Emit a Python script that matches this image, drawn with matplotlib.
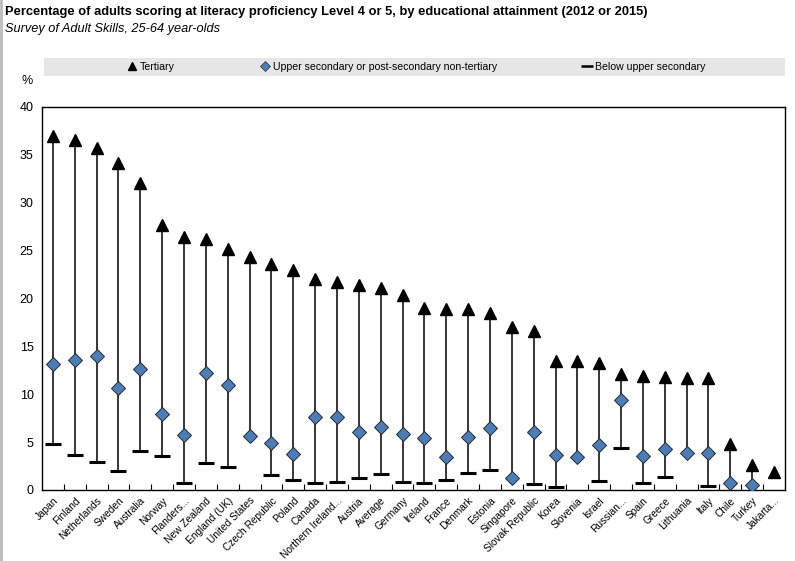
import numpy as np
import matplotlib
matplotlib.use("Agg")
import matplotlib.pyplot as plt
from matplotlib.lines import Line2D
from matplotlib.patches import Rectangle

plt.rcParams['font.family'] = ['Liberation Sans', 'DejaVu Sans']

# data
countries = ["Japan", "Finland", "Netherlands", "Sweden", "Australia", "Norway",
             "Flanders...", "New Zealand", "England (UK)", "United States",
             "Czech Republic", "Poland", "Canada", "Northern Ireland...", "Austria",
             "Average", "Germany", "Ireland", "France", "Denmark", "Estonia",
             "Singapore", "Slovak Republic", "Korea", "Slovenia", "Israel",
             "Russian...", "Spain", "Greece", "Lithuania", "Italy", "Chile",
             "Turkey", "Jakarta..."]
tertiary = [37.0, 36.6, 35.7, 34.2, 32.1, 27.7, 26.4, 26.2, 25.2, 24.3, 23.6,
            23.0, 22.0, 21.7, 21.4, 21.1, 20.35, 19.0, 18.9, 18.9, 18.5, 17.0,
            16.6, 13.5, 13.45, 13.25, 12.1, 11.9, 11.8, 11.7, 11.7, 4.8, 2.6, 1.9]
upper_sec = [13.2, 13.6, 13.95, 10.7, 12.6, 7.9, 5.7, 12.2, 11.0, 5.6, 4.9,
             3.8, 7.6, 7.6, 6.05, 6.6, 5.8, 5.4, 3.4, 5.5, 6.5, 1.3, 6.05,
             3.65, 3.45, 4.7, 9.4, 3.55, 4.25, 3.86, 3.86, 0.73, 0.52, np.nan]
below_sec = [4.8, 3.7, 2.95, 2.0, 4.07, 3.6, 0.77, 2.85, 2.4, np.nan, 1.6,
             1.08, 0.73, 0.83, 1.3, 1.67, 0.83, 0.73, 1.08, 1.8, 2.1, np.nan,
             0.63, 0.35, np.nan, 0.94, 4.4, 0.7, 1.4, np.nan, 0.45, np.nan,
             np.nan, np.nan]

x = np.arange(len(countries))
ter = np.array(tertiary)
upp = np.array(upper_sec)
bel = np.array(below_sec)
low = np.nanmin(np.vstack([ter, upp, bel]), axis=0)

fig = plt.figure(figsize=(7.95, 5.61), dpi=100)
ax = fig.add_axes([0.0528, 0.1266, 0.9346, 0.6827])

ax.vlines(x, low, ter, color='black', lw=1.1, zorder=1)
ax.plot(x, bel, linestyle='none', marker='_', ms=12, mew=2.2, color='black', zorder=2)
ax.plot(x, upp, linestyle='none', marker='D', ms=7, color='#4A7EBB',
        mec='#2B2B2B', mew=0.7, zorder=3)
ax.plot(x, ter, linestyle='none', marker='^', ms=8, color='black', zorder=4)

ax.set_xlim(-0.5, len(countries) - 0.5)
ax.set_ylim(0, 40)
ax.set_yticks(np.arange(0, 41, 5))
ax.tick_params(axis='y', length=0, labelsize=9, pad=6)
ax.set_xticks(x)
ax.set_xticklabels(countries, rotation=45, ha='right', rotation_mode='anchor', fontsize=7.3)
ax.tick_params(axis='x', length=0, pad=4)
ax.set_xticks(x[:-1] + 0.5, minor=True)
ax.tick_params(axis='x', which='minor', direction='in', length=4, width=0.8)
for s in ax.spines.values():
    s.set_linewidth(1.0)

fig.text(0.034, 0.855, '%', fontsize=9, ha='center', va='center')

# title block
fig.text(0.006, 0.979, 'Percentage of adults scoring at literacy proficiency Level 4 or 5, '
         'by educational attainment (2012 or 2015)', fontsize=9.3, fontweight='bold',
         ha='left', va='center')
fig.text(0.006, 0.948, 'Survey of Adult Skills, 25-64 year-olds', fontsize=9.2,
         style='italic', ha='left', va='center')

# legend band
fig.patches.append(Rectangle((0.055, 0.8645), 0.932, 0.032, transform=fig.transFigure,
                             facecolor='#E6E6E6', edgecolor='none', zorder=0))
handles = [
    Line2D([], [], linestyle='none', marker='^', ms=6, color='black'),
    Line2D([], [], linestyle='none', marker='D', ms=5, color='#4A7EBB', mec='#2B2B2B', mew=0.5),
    Line2D([], [], linestyle='none', marker='_', ms=8, mew=1.8, color='black'),
]
fig.legend(handles, ['Tertiary', 'Upper secondary or post-secondary non-tertiary',
                     'Below upper secondary'],
           loc='center', bbox_to_anchor=(0.524, 0.8805), ncol=3, frameon=False,
           fontsize=7.6, handlelength=0.8, handletextpad=0.3, columnspacing=8.2)

# thin grey edge on the left like the source screenshot
fig.add_artist(Line2D([0.0015, 0.0015], [0, 1], transform=fig.transFigure,
                      color='#BBBBBB', lw=2))

fig.savefig('out.png', dpi=100)
